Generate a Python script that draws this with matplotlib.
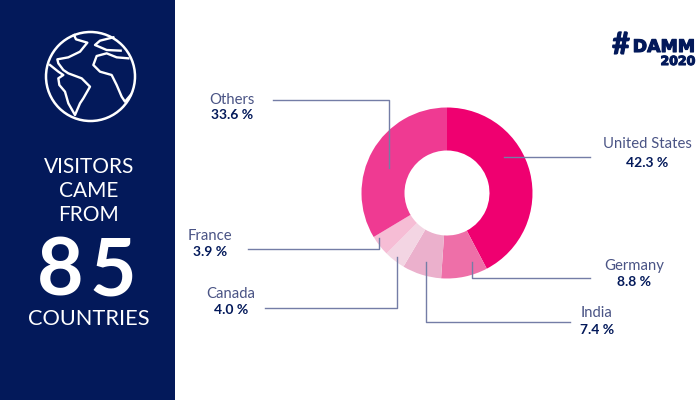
import matplotlib
matplotlib.use('Agg')
import matplotlib.pyplot as plt
import matplotlib.patheffects as pe
from matplotlib.patches import Rectangle, Circle

countries = ['United States', 'Germany', 'India', 'Canada', 'France', 'Others']
shares = [42.3, 8.8, 7.4, 4.0, 3.9, 33.6]
colors = ['#EF0070', '#EE6FA8', '#EBB0CC', '#F3D5E3', '#F6BDD5', '#EF3A92']

navy = '#03195A'
line_col = '#747DA6'
name_col = '#4A5485'

plt.rcParams['font.family'] = ['Lato', 'DejaVu Sans']

fig = plt.figure(figsize=(7, 4), dpi=100)
ax = fig.add_axes([0, 0, 1, 1])


# y goes from the top like in the picture
def flip(pts):
    return [p[0] for p in pts], [400 - p[1] for p in pts]


ax.pie(shares, colors=colors, startangle=90, counterclock=False, center=(447, 400 - 193),
       radius=85.5, wedgeprops=dict(width=43, linewidth=0), frame=False)
ax.set_xlim(0, 700)
ax.set_ylim(0, 400)
ax.set_aspect('auto')
ax.axis('off')

# left panel
ax.add_patch(Rectangle((0, 0), 175, 400, facecolor=navy, linewidth=0, zorder=1))

# globe icon
ax.add_patch(Circle((90.5, 400 - 76.5), 44.5, fill=False, ec='white', lw=1.8, zorder=3))
land = [
    [(150, 195), (175, 215), (190, 225), (175, 235), (178, 255), (195, 275), (205, 310), (225, 345),
     (240, 310), (250, 295), (270, 260), (245, 235), (205, 220), (190, 210), (175, 190), (172, 178),
     (205, 172), (240, 155), (262, 128), (228, 118), (222, 105)],
    [(385, 175), (350, 172), (320, 160), (290, 168), (280, 195), (300, 215), (335, 225), (350, 255),
     (365, 290), (375, 305), (392, 285)],
    [(340, 112), (300, 122), (285, 135), (320, 150), (362, 152)],
]
for part in land:
    x, y = flip([(a / 3, b / 3) for a, b in part])
    ax.plot(x, y, color='white', lw=1.7, zorder=3, solid_joinstyle='round')

# panel text
ax.text(89, 400 - 167, 'VISITORS', color='white', fontsize=15, ha='center', va='center', zorder=3)
ax.text(89, 400 - 191, 'CAME', color='white', fontsize=15, ha='center', va='center', zorder=3)
ax.text(89, 400 - 215, 'FROM', color='white', fontsize=15, ha='center', va='center', zorder=3)
ax.text(60, 400 - 295, '8', color='white', fontsize=58, fontweight='bold', ha='center', va='baseline', zorder=3)
ax.text(113, 400 - 295, '5', color='white', fontsize=58, fontweight='bold', ha='center', va='baseline', zorder=3)
ax.text(89, 400 - 319, 'COUNTRIES', color='white', fontsize=15.7, ha='center', va='center', zorder=3)

# logo, heavy font faked with a stroke
heavy = [pe.withStroke(linewidth=0.8, foreground=navy)]
ax.text(621, 400 - 54, '#', color=navy, fontsize=22, fontweight='bold', ha='center', va='baseline', path_effects=heavy)
ax.text(664, 400 - 52, 'DAMM', color=navy, fontsize=12.5, fontweight='bold', ha='center', va='baseline',
        family='DejaVu Sans', path_effects=heavy)
ax.text(678, 400 - 65, '2020', color=navy, fontsize=9, fontweight='bold', ha='center', va='baseline',
        family='DejaVu Sans', path_effects=heavy)

# labels, name and share drawn as text
label_pos = [(647, 144, 163), (634, 266, 282), (597, 313, 330), (231, 294, 310), (210, 236, 252), (232, 100, 115)]
for name, share, (lx, ny, vy) in zip(countries, shares, label_pos):
    ax.text(lx, 400 - ny, name, color=name_col, fontsize=10.7, ha='center', va='center')
    ax.text(lx, 400 - vy, '%.1f %%' % share, color=navy, fontsize=10, fontweight='bold', ha='center', va='center')

# leader lines
leaders = [
    [(504, 157), (590, 157)],
    [(472, 262), (472, 278), (590, 278)],
    [(426, 262), (426, 322), (570, 322)],
    [(397, 257), (397, 308), (265, 308)],
    [(379, 238), (379, 249), (248, 249)],
    [(273, 100), (389, 100), (389, 168)],
]
for seg in leaders:
    x, y = flip(seg)
    ax.plot(x, y, color=line_col, lw=1.0, zorder=4)

fig.savefig('out.png', dpi=100)
